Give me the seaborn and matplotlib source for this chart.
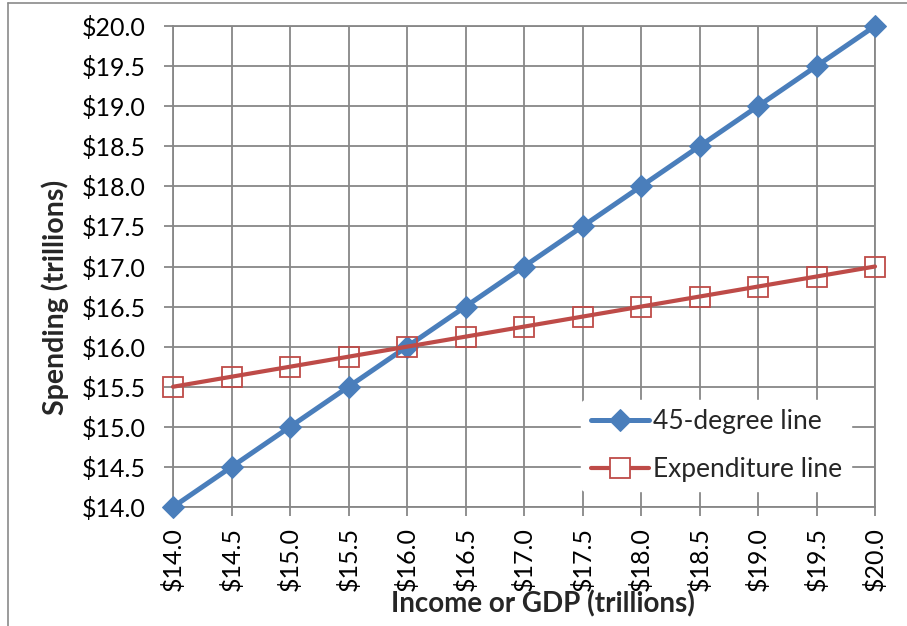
import matplotlib
matplotlib.use("Agg")
import matplotlib.pyplot as plt
import seaborn as sns
import pandas as pd
from matplotlib.lines import Line2D

income = [14.0, 14.5, 15.0, 15.5, 16.0, 16.5, 17.0, 17.5, 18.0, 18.5, 19.0, 19.5, 20.0]
line45 = [14.0, 14.5, 15.0, 15.5, 16.0, 16.5, 17.0, 17.5, 18.0, 18.5, 19.0, 19.5, 20.0]
expenditure = [15.5, 15.625, 15.75, 15.875, 16.0, 16.125, 16.25, 16.375, 16.5, 16.625, 16.75, 16.875, 17.0]
series_names = ["45-degree line", "Expenditure line"]
x_label = "Income or GDP (trillions)"
y_label = "Spending (trillions)"

sns.set_theme(style="white")
plt.rcParams['font.family'] = ['Lato', 'DejaVu Sans']

fig = plt.figure(figsize=(9.07, 6.26), dpi=100)
ax = fig.add_axes([173/907, 1-507/626, (875-173)/907, (507-26)/626])

grid_c = "#878787"
blue = "#4A7EBB"
red = "#BE4B48"

sns.lineplot(x=income, y=line45, ax=ax, color=blue, linewidth=3.6, marker="D",
             markersize=11.5, markeredgecolor=blue, markerfacecolor=blue,
             label=series_names[0], zorder=3)
sns.lineplot(x=income, y=expenditure, ax=ax, color=red, linewidth=3.0, marker="s",
             markersize=14, markeredgecolor=red, markerfacecolor="none",
             markeredgewidth=1.3, label=series_names[1], zorder=4)
for ln in ax.lines:
    ln.set_clip_on(False)

ax.set_xlim(14, 20)
ax.set_ylim(14, 20)
ax.set_xticks(income)
ax.set_yticks(income)
ax.set_xticklabels([f"${v:.1f}" for v in income], rotation=90)
ax.set_yticklabels([f"${v:.1f}" for v in income])
ax.grid(True, color=grid_c, linewidth=1.3)
ax.set_axisbelow(True)
for s in ax.spines.values():
    s.set_visible(True)
    s.set_color(grid_c)
    s.set_linewidth(1.3)
ax.tick_params(axis="both", which="both", direction="out", length=6.5, width=1.3,
               color=grid_c, labelsize=18, labelcolor="black")
ax.tick_params(axis="y", pad=13, left=True)
ax.tick_params(axis="x", pad=8, bottom=True)

ax.set_xlabel(x_label, fontsize=20, fontweight="bold")
ax.xaxis.set_label_coords((543-173)/702, -(590-507)/481)
ax.set_ylabel("")
fig.text(55/907, 1-297.5/626, y_label, fontsize=20.5, fontweight="bold",
         rotation=90, ha="center", va="center")

leg = ax.legend(loc="lower right", bbox_to_anchor=(678/702, 16/481), frameon=True,
                fontsize=19, handlelength=2.2, handletextpad=0.15,
                borderpad=0.35, labelspacing=0.85, borderaxespad=0)
leg.get_frame().set_edgecolor("white")
leg.get_frame().set_facecolor("white")
leg.get_frame().set_alpha(1)
for h in leg.legend_handles:
    if h.get_marker() == "s":
        h.set_markerfacecolor("white")

fig.add_artist(Line2D([8/907, 8/907], [0, 1-3/626], transform=fig.transFigure,
                      color="#8a8a8a", linewidth=1.2))
fig.add_artist(Line2D([8/907, 1], [1-3/626, 1-3/626], transform=fig.transFigure,
                      color="#8a8a8a", linewidth=1.2))

fig.savefig("out.png", dpi=100)
